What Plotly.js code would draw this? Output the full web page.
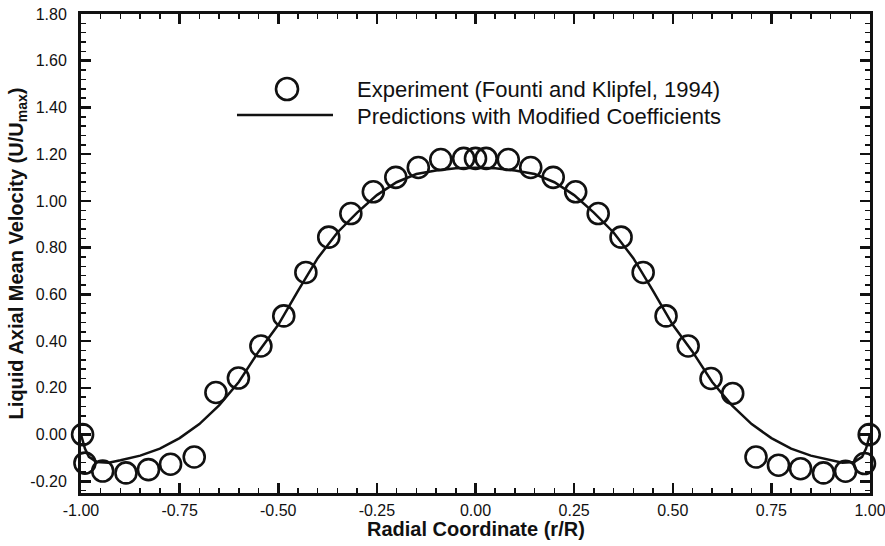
<!DOCTYPE html>
<html>
<head>
<meta charset="utf-8">
<script src="https://cdn.plot.ly/plotly-3.0.1.min.js"></script>
<style>html,body{margin:0;padding:0;background:#fff;}#chart{width:885px;height:546px;}</style>
</head>
<body>
<div id="chart"></div>
<script>
// Experiment (Founti and Klipfel, 1994)
const expR = [-0.996,-0.990,-0.945,-0.886,-0.829,-0.773,-0.713,-0.658,-0.601,-0.544,-0.486,-0.430,-0.372,-0.316,-0.259,-0.202,-0.145,-0.088,-0.030,0.000,0.027,0.083,0.140,0.197,0.254,0.311,0.369,0.425,0.483,0.539,0.597,0.652,0.711,0.768,0.824,0.882,0.938,0.986,0.998];
const expU = [0.000,-0.122,-0.156,-0.164,-0.150,-0.127,-0.096,0.180,0.242,0.379,0.508,0.694,0.845,0.946,1.039,1.101,1.143,1.177,1.182,1.182,1.182,1.177,1.143,1.101,1.039,0.946,0.845,0.694,0.508,0.379,0.240,0.176,-0.096,-0.131,-0.146,-0.164,-0.157,-0.124,0.000];
// Predictions with Modified Coefficients
const predR = [-1.00,-0.995,-0.99,-0.98,-0.96,-0.93,-0.90,-0.85,-0.80,-0.75,-0.70,-0.65,-0.60,-0.55,-0.50,-0.45,-0.40,-0.35,-0.30,-0.25,-0.20,-0.15,-0.10,-0.05,0.00,0.05,0.10,0.15,0.20,0.25,0.30,0.35,0.40,0.45,0.50,0.55,0.60,0.65,0.70,0.75,0.80,0.85,0.90,0.93,0.96,0.98,0.99,0.995,1.00];
const predU = [0.000,-0.030,-0.060,-0.095,-0.117,-0.120,-0.110,-0.090,-0.060,-0.015,0.045,0.125,0.225,0.355,0.470,0.615,0.755,0.865,0.950,1.025,1.080,1.115,1.130,1.140,1.142,1.140,1.130,1.115,1.080,1.025,0.950,0.865,0.755,0.615,0.470,0.355,0.225,0.125,0.045,-0.015,-0.060,-0.090,-0.110,-0.120,-0.117,-0.095,-0.060,-0.030,0.000];
const xTickVals = [-1.00,-0.75,-0.50,-0.25,0.00,0.25,0.50,0.75,1.00];
const xTickText = ["-1.00","-0.75","-0.50","-0.25","0.00","0.25","0.50","0.75","1.00"];
const yTickVals = [-0.20,0.00,0.20,0.40,0.60,0.80,1.00,1.20,1.40,1.60,1.80];
const yTickText = ["-0.20","0.00","0.20","0.40","0.60","0.80","1.00","1.20","1.40","1.60","1.80"];
const xTitle = "Radial Coordinate (r/R)";
const yTitle = "Liquid Axial Mean Velocity (U/U<sub>max</sub>)";
const legendLabels = ["Experiment (Founti and Klipfel, 1994)","Predictions with Modified Coefficients"];

const FONT = "Liberation Sans, Arial, Helvetica, sans-serif";
const INK = "#111111";
const X_RANGE = [-1, 1];
const Y_RANGE = [-0.25, 1.8];

const traces = [
  {x: predR, y: predU, mode: "lines", line: {color: INK, width: 2.5}, showlegend: false, hoverinfo: "skip"},
  {x: expR, y: expU, mode: "markers", marker: {symbol: "circle-open", size: 21, color: INK, line: {width: 2.6, color: INK}}, showlegend: false, cliponaxis: false},
  // invisible helper trace so the mirrored (top/right) tick axes are drawn
  {x: expR, y: expU, xaxis: "x2", yaxis: "y2", mode: "markers", marker: {opacity: 0}, showlegend: false, hoverinfo: "skip"}
];

const tickStyle = {ticks: "inside", ticklen: 10, tickwidth: 2.5, tickcolor: INK, showgrid: false, zeroline: false};
const xMinor = {dtick: 0.05, ticks: "inside", ticklen: 5, tickwidth: 1.5, tickcolor: INK};
const yMinor = {dtick: 0.04, tick0: 0, ticks: "inside", ticklen: 5, tickwidth: 1.5, tickcolor: INK};

const layout = {
  width: 885, height: 546,
  margin: {l: 81, r: 15, t: 14, b: 53},
  paper_bgcolor: "#ffffff", plot_bgcolor: "#ffffff",
  showlegend: false,
  xaxis: Object.assign({}, tickStyle, {
    range: X_RANGE, showline: true, linecolor: INK, linewidth: 3, mirror: true,
    tickmode: "array", tickvals: xTickVals, ticktext: xTickText,
    tickfont: {family: FONT, size: 16, color: INK}, ticklabeloverflow: "allow",
    minor: xMinor, ticklabelstandoff: 1
  }),
  yaxis: Object.assign({}, tickStyle, {
    range: Y_RANGE, showline: true, linecolor: INK, linewidth: 3, mirror: true,
    tickmode: "array", tickvals: yTickVals, ticktext: yTickText,
    tickfont: {family: FONT, size: 16, color: INK}, ticklabeloverflow: "allow",
    minor: yMinor, ticklabelstandoff: 8,
    title: {text: yTitle, font: {family: FONT, size: 20, color: INK, weight: "bold"}, standoff: 2}
  }),
  xaxis2: Object.assign({}, tickStyle, {
    range: X_RANGE, overlaying: "x", side: "top", anchor: "y2", showline: false, showticklabels: false,
    tickmode: "array", tickvals: xTickVals, minor: xMinor
  }),
  yaxis2: Object.assign({}, tickStyle, {
    range: Y_RANGE, overlaying: "y", side: "right", anchor: "x2", showline: false, showticklabels: false,
    tickmode: "array", tickvals: yTickVals, minor: yMinor
  }),
  shapes: [
    {type: "circle", xref: "paper", yref: "paper", xsizemode: "pixel", ysizemode: "pixel",
     xanchor: 0.2611, yanchor: 0.8434, x0: -11, x1: 11, y0: -11, y1: 11,
     line: {color: INK, width: 2.6}},
    {type: "line", xref: "paper", yref: "paper", x0: 0.1977, x1: 0.3194, y0: 0.789, y1: 0.789,
     line: {color: INK, width: 2.5}}
  ],
  annotations: [
    {xref: "paper", yref: "paper", x: 0.5, y: -0.0752, xanchor: "center", yanchor: "middle", showarrow: false,
     text: xTitle, font: {family: FONT, size: 20, color: INK, weight: "bold"}},
    {xref: "paper", yref: "paper", x: 0.3473, y: 0.8434, xanchor: "left", yanchor: "middle", showarrow: false,
     text: legendLabels[0], font: {family: FONT, size: 22, color: INK}},
    {xref: "paper", yref: "paper", x: 0.3473, y: 0.787, xanchor: "left", yanchor: "middle", showarrow: false,
     text: legendLabels[1], font: {family: FONT, size: 22, color: INK}}
  ]
};

Plotly.newPlot("chart", traces, layout, {displayModeBar: false, staticPlot: true});
</script>
</body>
</html>
